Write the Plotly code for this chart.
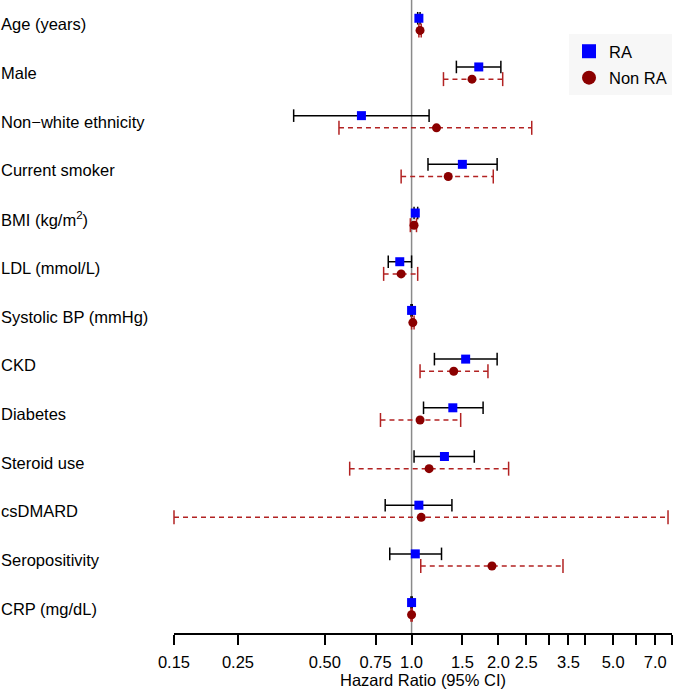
import plotly.graph_objects as go
import math

# ---------------- data ----------------
variables = ["Age (years)", "Male", "Non\u2212white ethnicity", "Current smoker",
             "BMI (kg/m<sup>2</sup>)", "LDL (mmol/L)", "Systolic BP (mmHg)", "CKD",
             "Diabetes", "Steroid use", "csDMARD", "Seropositivity", "CRP (mg/dL)"]

ra_hr = [1.06, 1.71, 0.67, 1.50, 1.03, 0.91, 1.00, 1.54, 1.39, 1.30, 1.06, 1.03, 1.00]
ra_lo = [1.05, 1.43, 0.39, 1.14, 1.02, 0.83, 0.995, 1.20, 1.10, 1.02, 0.81, 0.84, 0.995]
ra_hi = [1.07, 2.04, 1.15, 1.98, 1.05, 1.00, 1.005, 1.98, 1.77, 1.65, 1.38, 1.27, 1.005]

nonra_hr = [1.07, 1.62, 1.22, 1.34, 1.02, 0.92, 1.01, 1.40, 1.07, 1.15, 1.08, 1.90, 1.00]
nonra_lo = [1.06, 1.29, 0.56, 0.92, 0.99, 0.80, 1.00, 1.07, 0.78, 0.61, 0.15, 1.076, 0.995]
nonra_hi = [1.08, 2.07, 2.61, 1.92, 1.04, 1.05, 1.02, 1.84, 1.48, 2.17, 7.75, 3.35, 1.005]

tick_vals = [0.15, 0.25, 0.5, 0.75, 1.0, 1.5, 2.0, 2.5, 3.0, 3.5, 4.0, 5.0, 6.0, 7.0, 8.0]
tick_text = ["0.15", "0.25", "0.50", "0.75", "1.0", "1.5", "2.0", "2.5", "", "3.5", "", "5.0", "", "7.0", ""]
x_title = "Hazard Ratio (95% CI)"
series_names = ["RA", "Non RA"]

# ---------------- styles ----------------
FONT = "Liberation Sans, Arial, Helvetica, sans-serif"
FS = 16.5
BLUE = "#0000FF"
DARKRED = "#8B0000"
CI_RED = "#B22222"

n = len(variables)
rows = [n - i for i in range(n)]
off = 0.125
y_ra = [r + off for r in rows]
y_non = [r - off for r in rows]


def seg(lo, hi, ys):
    xs, yy = [], []
    for a, b, y in zip(lo, hi, ys):
        xs += [a, b, None]
        yy += [y, y, None]
    return xs, yy


fig = go.Figure()

# reference line at HR = 1
fig.add_trace(go.Scatter(x=[1, 1], y=[0.5, n + 0.5], mode="lines",
                         line=dict(color="#8a8a8a", width=1.5),
                         showlegend=False, hoverinfo="skip"))

# RA CI
xs, yy = seg(ra_lo, ra_hi, y_ra)
fig.add_trace(go.Scatter(x=xs, y=yy, mode="lines", line=dict(color="black", width=1.5),
                         showlegend=False, hoverinfo="skip"))
fig.add_trace(go.Scatter(x=ra_lo + ra_hi, y=y_ra + y_ra, mode="markers",
                         marker=dict(symbol="line-ns", size=9,
                                     line=dict(color="black", width=1.5)),
                         showlegend=False, hoverinfo="skip", cliponaxis=False))

# Non RA CI
xs, yy = seg(nonra_lo, nonra_hi, y_non)
fig.add_trace(go.Scatter(x=xs, y=yy, mode="lines",
                         line=dict(color=CI_RED, width=1.5, dash="5px,4px"),
                         showlegend=False, hoverinfo="skip"))
fig.add_trace(go.Scatter(x=nonra_lo + nonra_hi, y=y_non + y_non, mode="markers",
                         marker=dict(symbol="line-ns", size=10,
                                     line=dict(color=CI_RED, width=1.5)),
                         showlegend=False, hoverinfo="skip", cliponaxis=False))

# point estimates
fig.add_trace(go.Scatter(x=ra_hr, y=y_ra, mode="markers", name=series_names[0],
                         marker=dict(symbol="square", size=9, color=BLUE),
                         showlegend=False, cliponaxis=False))
fig.add_trace(go.Scatter(x=nonra_hr, y=y_non, mode="markers", name=series_names[1],
                         marker=dict(symbol="circle", size=9, color=DARKRED),
                         showlegend=False, cliponaxis=False))

# legend entries
fig.add_trace(go.Scatter(x=[None], y=[None], mode="markers", name=series_names[0],
                         marker=dict(symbol="square", size=14, color=BLUE),
                         legendgroup="a"))
fig.add_trace(go.Scatter(x=[None], y=[None], mode="markers", name=series_names[1],
                         marker=dict(symbol="circle", size=14, color=DARKRED),
                         legendgroup="b"))

L, R, T, B = 174, 4, 0, 63
PW = 676 - L - R

annotations = []
for lab, r in zip(variables, rows):
    annotations.append(dict(text=lab, x=(-1 - L) / PW, xref="paper", xanchor="left",
                            y=r, yref="y", yanchor="middle", showarrow=False,
                            font=dict(family=FONT, size=FS, color="black")))

fig.update_layout(
    width=676, height=696,
    margin=dict(l=L, r=R, t=T, b=B),
    paper_bgcolor="white", plot_bgcolor="white",
    font=dict(family=FONT, size=FS, color="black"),
    annotations=annotations,
    legend=dict(x=(569 - L) / PW, y=1 - 34 / (696 - T - B), xanchor="left", yanchor="top",
                bgcolor="#f7f7f7", borderwidth=0, tracegroupgap=2,
                font=dict(family=FONT, size=FS, color="black")),
    xaxis=dict(type="log", range=[math.log10(0.15), math.log10(8.0)],
               tickvals=tick_vals, ticktext=tick_text,
               ticks="outside", ticklen=10, tickwidth=1.5, tickcolor="black",
               showline=True, linecolor="black", linewidth=1.5,
               showgrid=False, zeroline=False, ticklabelstandoff=3,
               tickfont=dict(family=FONT, size=FS, color="black"),
               title=dict(text=x_title, standoff=4,
                          font=dict(family=FONT, size=FS, color="black"))),
    yaxis=dict(range=[0.5, n + 0.5], showgrid=False, zeroline=False,
               showticklabels=False, ticks="", showline=False),
)

fig.write_html("out.html", config={"displayModeBar": False},
               post_script="document.body.style.margin='0px';document.body.style.padding='0px';")
